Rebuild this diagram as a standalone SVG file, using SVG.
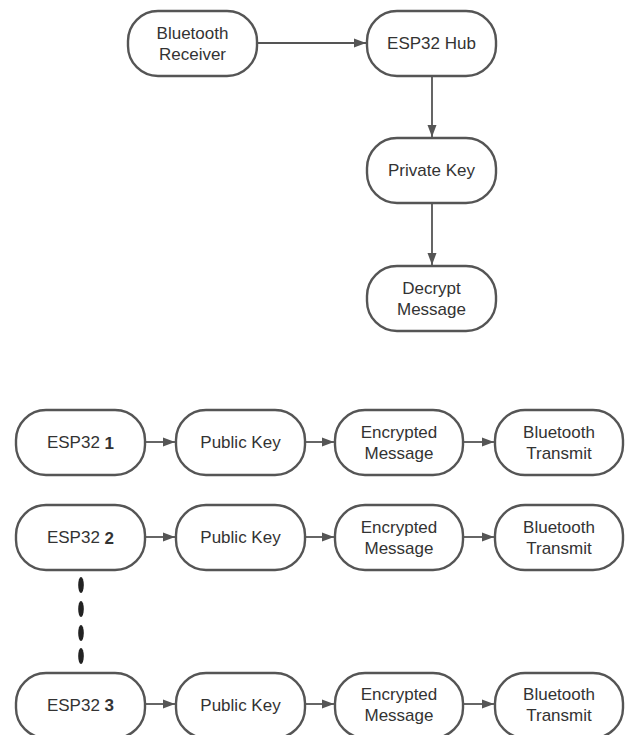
<svg xmlns="http://www.w3.org/2000/svg" width="629" height="735" viewBox="0 0 629 735">
<style>
.n rect{fill:#fff;stroke:#555;stroke-width:2.4}
text{font-family:"Liberation Sans",Arial,sans-serif;font-size:17px;fill:#333;text-anchor:middle;dominant-baseline:central}
.c line{stroke:#555;stroke-width:1.8;fill:none}
.b{font-weight:bold}
</style>
<defs>
<marker id="ah" viewBox="0 0 12 10" refX="12" refY="5" markerWidth="12" markerHeight="10" markerUnits="userSpaceOnUse" orient="auto">
<path d="M0,0.5 L12,5 L0,9.5 z" fill="#555"/>
</marker>
</defs>
<rect width="629" height="735" fill="#fff"/>
<g class="c">
<line x1="257" y1="43" x2="366" y2="43" marker-end="url(#ah)"/>
<line x1="432" y1="76" x2="432" y2="137" marker-end="url(#ah)"/>
<line x1="432" y1="203" x2="432" y2="265" marker-end="url(#ah)"/>
<line x1="145" y1="442" x2="175" y2="442" marker-end="url(#ah)"/>
<line x1="305" y1="442" x2="334" y2="442" marker-end="url(#ah)"/>
<line x1="463" y1="442" x2="494" y2="442" marker-end="url(#ah)"/>
<line x1="145" y1="537" x2="175" y2="537" marker-end="url(#ah)"/>
<line x1="305" y1="537" x2="334" y2="537" marker-end="url(#ah)"/>
<line x1="463" y1="537" x2="494" y2="537" marker-end="url(#ah)"/>
<line x1="145" y1="704" x2="175" y2="704" marker-end="url(#ah)"/>
<line x1="305" y1="704" x2="334" y2="704" marker-end="url(#ah)"/>
<line x1="463" y1="704" x2="494" y2="704" marker-end="url(#ah)"/>
<g fill="#222">
<ellipse cx="81" cy="585" rx="2.8" ry="8"/>
<ellipse cx="81" cy="609" rx="2.8" ry="8"/>
<ellipse cx="81" cy="633" rx="2.8" ry="8"/>
<ellipse cx="81" cy="656" rx="2.8" ry="8"/>
</g>
</g>
<g id="bt-receiver" class="n"><rect x="128" y="11" width="129" height="65" rx="30"/><text x="192.5" y="33">Bluetooth</text><text x="192.5" y="54">Receiver</text></g>
<g id="esp32-hub" class="n"><rect x="367" y="11" width="129" height="65" rx="30"/><text x="431.5" y="43.5">ESP32 Hub</text></g>
<g id="private-key" class="n"><rect x="367" y="138" width="129" height="65" rx="30"/><text x="431.5" y="170.5">Private Key</text></g>
<g id="decrypt" class="n"><rect x="367" y="266" width="129" height="65" rx="30"/><text x="431.5" y="288">Decrypt</text><text x="431.5" y="309">Message</text></g>

<g id="esp32-1" class="n"><rect x="16" y="410" width="129" height="65" rx="30"/><text x="80.5" y="442.5">ESP32 <tspan class="b">1</tspan></text></g>
<g id="pub-1" class="n"><rect x="176" y="410" width="129" height="65" rx="30"/><text x="240.5" y="442.5">Public Key</text></g>
<g id="enc-1" class="n"><rect x="335" y="410" width="128" height="65" rx="30"/><text x="399" y="432">Encrypted</text><text x="399" y="453">Message</text></g>
<g id="btt-1" class="n"><rect x="495" y="410" width="128" height="65" rx="30"/><text x="559" y="432">Bluetooth</text><text x="559" y="453">Transmit</text></g>

<g id="esp32-2" class="n"><rect x="16" y="505" width="129" height="65" rx="30"/><text x="80.5" y="537.5">ESP32 <tspan class="b">2</tspan></text></g>
<g id="pub-2" class="n"><rect x="176" y="505" width="129" height="65" rx="30"/><text x="240.5" y="537.5">Public Key</text></g>
<g id="enc-2" class="n"><rect x="335" y="505" width="128" height="65" rx="30"/><text x="399" y="527">Encrypted</text><text x="399" y="548">Message</text></g>
<g id="btt-2" class="n"><rect x="495" y="505" width="128" height="65" rx="30"/><text x="559" y="527">Bluetooth</text><text x="559" y="548">Transmit</text></g>

<g id="esp32-3" class="n"><rect x="16" y="673" width="129" height="65" rx="30"/><text x="80.5" y="705">ESP32 <tspan class="b">3</tspan></text></g>
<g id="pub-3" class="n"><rect x="176" y="673" width="129" height="65" rx="30"/><text x="240.5" y="705">Public Key</text></g>
<g id="enc-3" class="n"><rect x="335" y="673" width="128" height="65" rx="30"/><text x="399" y="694">Encrypted</text><text x="399" y="715">Message</text></g>
<g id="btt-3" class="n"><rect x="495" y="673" width="128" height="65" rx="30"/><text x="559" y="694">Bluetooth</text><text x="559" y="715">Transmit</text></g>
</svg>
